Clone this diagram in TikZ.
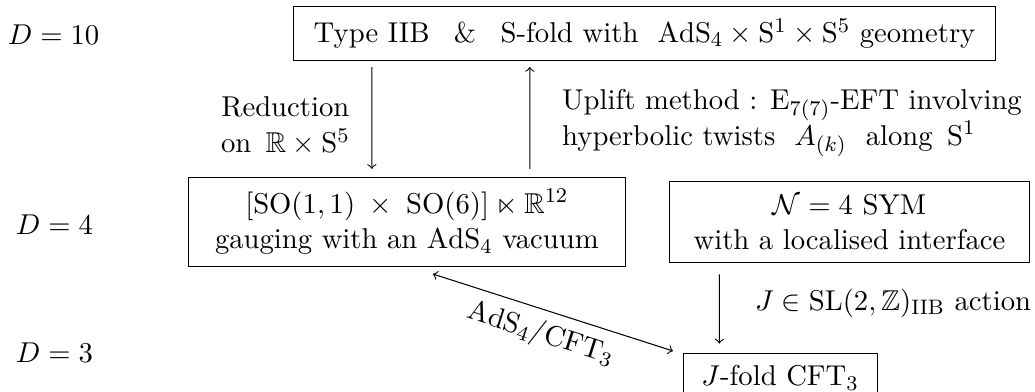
\documentclass[tikz,border=0pt,11pt]{standalone}
\usepackage{amsmath}
\usepackage{amssymb}
\usetikzlibrary{arrows}

\tikzset{
  theorybox/.style={draw=black, align=center, inner xsep=7pt, inner ysep=4.6pt},
  link/.style={->, shorten <=2.3pt, shorten >=3pt}
}

\begin{document}
\begin{tikzpicture}

\useasboundingbox ( 0, 0 ) rectangle ( 13.89, 5.26 );

% Dimensions
\node (dten) at ( 0.72, 4.79 ) {$D=10$};
\node (dfour) at ( 0.73, 2.25 ) {$D=4$};
\node (dthree) at ( 0.73, 0.52 ) {$D=3$};

% Theories
\node [theorybox, minimum width=9.41cm] (iib) at ( 8.65, 4.81 ) {Type IIB\hspace{0.85em}\&\hspace{0.85em}S-fold with\ \ $\mathrm{AdS}_4\times\mathrm{S}^1\times\mathrm{S}^5$ geometry};
\node [theorybox, minimum width=5.87cm] (sugra) at ( 5.46, 2.28 ) {$[\mathrm{SO}(1,1)\;\times\;\mathrm{SO}(6)]\ltimes\mathbb{R}^{12}$\\gauging with an $\mathrm{AdS}_4$ vacuum};
\node [theorybox, minimum width=4.83cm] (sym) at ( 11.40, 2.28 ) {$\mathcal{N}=4$ SYM\\with a localised interface};
\node [theorybox, anchor=north] (jfold) at ( 10.47, 0.52 ) {$J$-fold $\mathrm{CFT}_3$};

% Arrows
\draw [link] ([xshift=-3.66cm]iib.south) -- ([xshift=-0.47cm]sugra.north);
\draw [link, shorten <=3pt, shorten >=2.3pt] ([xshift=1.65cm]sugra.north) -- ([xshift=-1.54cm]iib.south);
\draw [link, shorten <=4.5pt, shorten >=3.7pt] ([xshift=-1.745cm]sym.south) -- ([xshift=-0.815cm]jfold.north);
\draw [<->] ([xshift=0.35cm, yshift=-0.09cm]sugra.south) -- node [sloped, below, pos=0.48] {$\mathrm{AdS}_4/\mathrm{CFT}_3$} ([xshift=-0.13cm, yshift=0.03cm]jfold.north west);

% Labels
\node [align=center] (reduce) at ( 3.83, 3.57 ) {Reduction\\on\,\ $\mathbb{R}\times\mathrm{S}^5$};
\node [align=left, anchor=west] (uplift) at ( 7.41, 3.61 ) {Uplift method : $\mathrm{E}_{7(7)}$-EFT involving\\hyperbolic twists\ \ $A_{(k)}$\ \ along\ \,$\mathrm{S}^1$};
\node [anchor=west] (action) at ( 10.00, 1.19 ) {$J\in\mathrm{SL}(2,\mathbb{Z})_{\mathrm{IIB}}$ action};

\end{tikzpicture}
\end{document}
